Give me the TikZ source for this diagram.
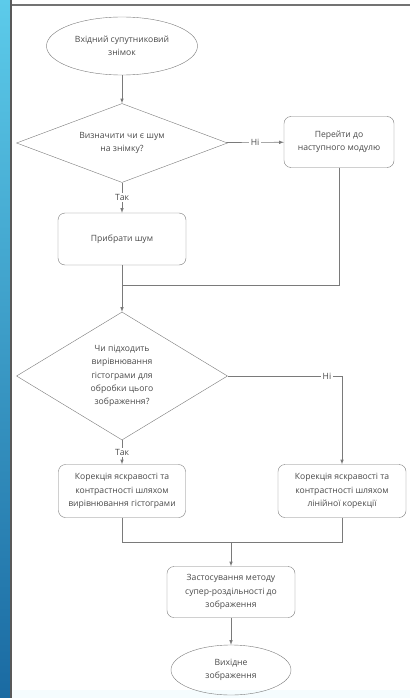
\documentclass[tikz,border=0pt]{standalone}
\usepackage{fontspec}
\setmainfont{Open Sans}
\usepackage{tikz}
\usetikzlibrary{shapes.geometric}
\usepackage{xcolor}
\definecolor{stripTop}{HTML}{5CCBEA}
\definecolor{stripBot}{HTML}{1A6AA2}
\definecolor{lineGray}{HTML}{7A7A7A}
\definecolor{textGray}{HTML}{4A4A4A}

\begin{document}
\begin{tikzpicture}[x=1pt,y=1pt,
    every node/.style={font=\fontsize{8.6}{13.4}\selectfont, text=textGray},
    box/.style={draw=lineGray, rounded corners=7pt, align=center, inner sep=2pt},
    terminal/.style={draw=lineGray, ellipse, align=center, inner sep=0pt},
    decision/.style={draw=lineGray, diamond, align=center, inner sep=0pt},
    line/.style={draw=lineGray, semithick},
    arr/.style={line, -latex},
    lbl/.style={fill=white, inner sep=1.5pt}]
    % Background
    \fill[white] (0,0) rectangle (410,-698);
    \shade[top color=stripTop, bottom color=stripBot] (0,0) rectangle (10,-698);
    \fill[black!65] (10,0) rectangle (11.5,-698);
    \fill[black!55] (11.5,-4) rectangle (410,-6);
    \fill[cyan!4] (11.5,-690) rectangle (410,-698);

    % Nodes
    \node[terminal, minimum width=151, minimum height=58] (input) at (122,-46) {Вхідний супутниковий\\знімок};
    \node[decision, aspect=2.7, minimum width=211, minimum height=79] (noise) at (122,-143) {Визначити чи є шум\\на знімку?};
    \node[box, minimum width=110, minimum height=51] (next) at (339,-142) {Перейти до\\наступного модулю};
    \node[box, minimum width=128, minimum height=52] (denoise) at (122,-239) {Прибрати шум};
    \node[decision, aspect=1.65, minimum width=211, minimum height=128] (histq) at (122,-376) {Чи підходить\\вирівнювання\\гістограми для\\обробки цього\\зображення?};
    \node[box, minimum width=127, minimum height=53] (histeq) at (122,-491) {Корекція яскравості та\\контрастності шляхом\\вирівнювання гістограми};
    \node[box, minimum width=128, minimum height=53] (linear) at (342,-491) {Корекція яскравості та\\контрастності шляхом\\лінійної корекції};
    \node[box, minimum width=128, minimum height=51] (superres) at (231,-592) {Застосування методу\\супер-роздільності до\\зображення};
    \node[terminal, minimum width=120, minimum height=50] (output) at (231,-670) {Вихідне\\зображення};

    % Joints
    \coordinate (join1) at (122,-285);
    \coordinate (join2) at (231,-542);
    \coordinate (turn) at (342,-376);
    \node[lbl] (noLbl) at (327,-376) {Ні};

    % Connectors
    \draw[arr] (input) -- (noise);
    \draw[arr] (noise) -- node[lbl] {Ні} (next);
    \draw[arr] (noise) -- node[lbl] {Так} (denoise);
    \draw[line] (next) |- (join1);
    \draw[arr] (denoise) -- (histq);
    \draw[line] (histq.east) -- (noLbl);
    \draw[arr] (noLbl) -- (turn) -- (linear);
    \draw[arr] (histq) -- node[lbl] {Так} (histeq);
    \draw[line] (histeq) |- (join2);
    \draw[line] (linear) |- (join2);
    \draw[arr] (join2) -- (superres);
    \draw[arr] (superres) -- (output);
\end{tikzpicture}
\end{document}
